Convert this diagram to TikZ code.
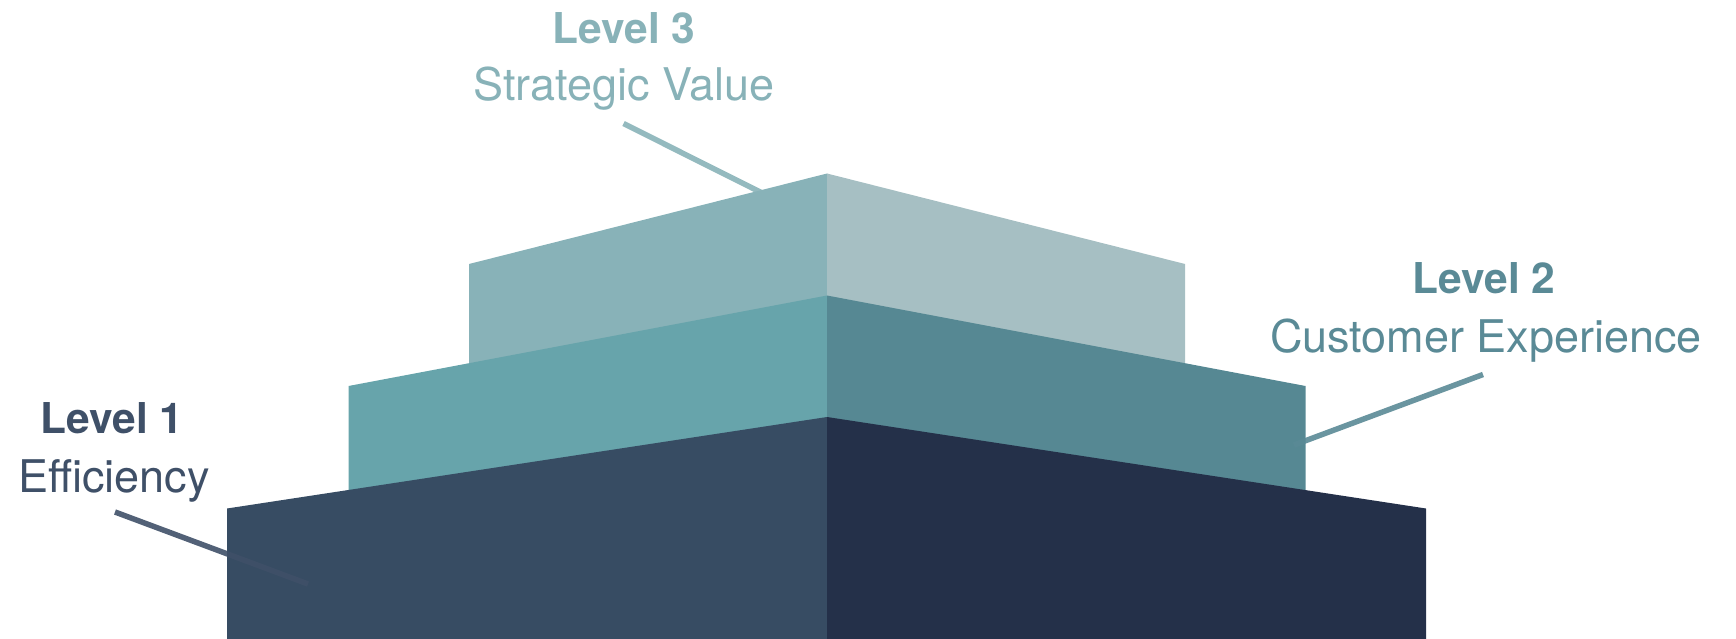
\documentclass[tikz,border=0pt]{standalone}
\usepackage{fontspec}
\setmainfont{TeX Gyre Heros}
\definecolor{lvlOneL}{HTML}{374C63}
\definecolor{lvlOneR}{HTML}{243049}
\definecolor{lvlTwoL}{HTML}{67A4AB}
\definecolor{lvlTwoR}{HTML}{568893}
\definecolor{lvlThreeL}{HTML}{88B2B8}
\definecolor{lvlThreeR}{HTML}{A6BFC3}
\definecolor{txtOne}{HTML}{3F5068}
\definecolor{txtTwo}{HTML}{5A8A96}
\definecolor{txtThree}{HTML}{88B2B8}
\tikzset{
  title/.style={anchor=base, inner sep=0pt, font=\fontsize{42.5}{50}\selectfont\bfseries},
  subtitle/.style={anchor=base, inner sep=0pt, font=\fontsize{45}{50}\selectfont},
  leader/.style={line width=5.5pt},
}
\begin{document}
\begin{tikzpicture}[x=1pt,y=-1pt]
\useasboundingbox (0,0) rectangle (1736,639);
% level 3 block
\fill[lvlThreeL] (469,264) -- (827,173.5) -- (827,639) -- (469,639) -- cycle;
\fill[lvlThreeR] (827,173.5) -- (1185,264) -- (1185,639) -- (827,639) -- cycle;
% level 2 block
\fill[lvlTwoL] (348.5,386) -- (827,295.5) -- (827,639) -- (348.5,639) -- cycle;
\fill[lvlTwoR] (827,295.5) -- (1305.5,386) -- (1305.5,639) -- (827,639) -- cycle;
% level 1 block
\fill[lvlOneL] (227,508.5) -- (827,417) -- (827,639) -- (227,639) -- cycle;
\fill[lvlOneR] (827,417) -- (1426,508.5) -- (1426,639) -- (827,639) -- cycle;
% labels
\node[title, text=txtThree] (t3) at (624,44) {Level 3};
\node[subtitle, text=txtThree] (s3) at (624,101) {Strategic Value};
\node[title, text=txtTwo] (t2) at (1484,293) {Level 2};
\node[subtitle, text=txtTwo] (s2) at (1486,352) {Customer Experience};
\node[title, text=txtOne] (t1) at (112,433) {Level 1};
\node[subtitle, text=txtOne] (s1) at (114,492) {Efficiency};
% leader lines
\coordinate (l3a) at (623.5,123.5);
\coordinate (l3b) at (800,212);
\coordinate (l2a) at (1483,374.5);
\coordinate (l2b) at (1294,445);
\coordinate (l1a) at (115,512);
\coordinate (l1b) at (308,584);
\draw[leader, txtThree, opacity=0.9] (l3a) -- (l3b);
\draw[leader, txtTwo, opacity=0.9] (l2a) -- (l2b);
\draw[leader, txtOne, opacity=0.9] (l1a) -- (l1b);
\end{tikzpicture}
\end{document}
